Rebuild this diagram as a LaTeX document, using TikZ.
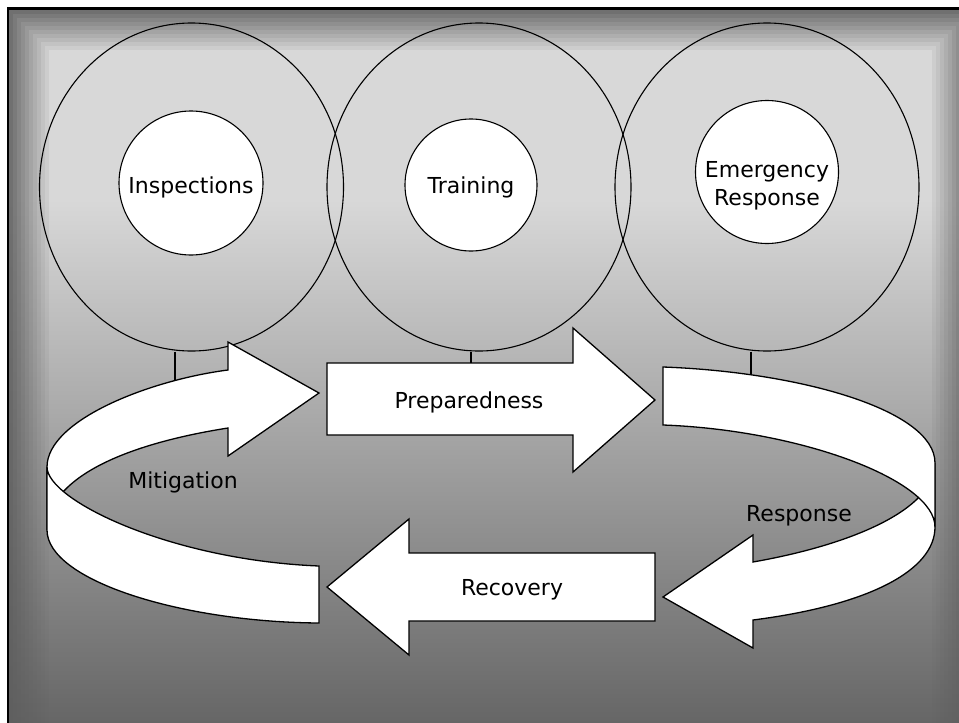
\documentclass[tikz,border=0pt]{standalone}
\usepackage{fontspec}
\setmainfont{DejaVu Sans}
\usetikzlibrary{shapes.geometric}
\definecolor{bgtop}{HTML}{D8D8D8}
\definecolor{bgbot}{HTML}{666666}
\definecolor{bevelc}{HTML}{5E5E5E}
\tikzset{
  bigc/.style={ellipse, draw=black, line width=1.1pt, minimum width=304pt, minimum height=328pt, inner sep=0pt},
  innerc/.style={circle, draw=black, fill=white, line width=1.1pt, inner sep=0pt},
  arr/.style={draw=black, fill=white, line width=1.3pt, line join=miter},
  link/.style={draw=black, line width=1.3pt},
  lbl/.style={font=\fontsize{22}{28}\selectfont, text=black, inner sep=0pt},
}
\begin{document}
\begin{tikzpicture}[x=1pt,y=-1pt]
\useasboundingbox (0,0) rectangle (959,723);
\clip (0,0) rectangle (959,723);
% background
\fill[white] (0,0) rectangle (959,723);
\fill[bgtop] (8,8) rectangle (990,200);
\shade[top color=bgtop, bottom color=bgbot] (8,199.5) rectangle (990,723);
\foreach \i in {0,...,9}{
  \pgfmathsetmacro{\op}{0.85-0.085*\i}
  \draw[bevelc, draw opacity=\op, line width=4pt] (11+4*\i,12+4*\i) rectangle (970-4*\i,900);
}
\draw[black, line width=2.7pt] (8,8.7) rectangle (1000,1000);

% large circles
\node[bigc] (c1) at (191.5,187) {};
\node[bigc] (c2) at (479,187) {};
\node[bigc] (c3) at (767,187) {};
% inner circles
\node[innerc, minimum size=144pt] (i1) at (191,183) {};
\node[innerc, minimum size=132pt] (i2) at (471,185) {};
\node[innerc, minimum size=143pt] (i3) at (767,172) {};

% link ends
\coordinate (m1) at (175,385);
\coordinate (m2) at (471,366);
\coordinate (m3) at (751,376);
\draw[link] (c1.south -| m1) -- (m1);
\draw[link] (c2.south -| m2) -- (m2);
\draw[link] (c3.south -| m3) -- (m3);

% Preparedness arrow
\draw[arr] (327,363) -- (573,363) -- (573,328) -- (655,400) -- (573,472) -- (573,435) -- (327,435) -- cycle;
% Recovery arrow
\draw[arr] (655,553) -- (409,553) -- (409,519) -- (327,587) -- (409,655) -- (409,621) -- (655,621) -- cycle;

% Mitigation ribbon: back part with head, then front part
\draw[arr] (228,370) .. controls (150,380) and (47,420) .. (47,467) -- (47,530)
  .. controls (47,480) and (120,445) .. (228,428) -- (228,456) -- (319,393) -- (228,342) -- cycle;
\draw[arr] (47,467) .. controls (47,500) and (170,560) .. (319,566) -- (319,623)
  .. controls (180,622) and (47,580) .. (47,530) -- cycle;

% Response ribbon: back part with head, then front part
\draw[arr] (753,562) .. controls (850,545) and (935,510) .. (935,463) -- (935,527)
  .. controls (935,570) and (870,605) .. (753,620) -- (753,648) -- (663,597) -- (753,535) -- cycle;
\draw[arr] (663,367) .. controls (800,372) and (935,410) .. (935,463) -- (935,527)
  .. controls (935,480) and (800,430) .. (663,425) -- cycle;

% labels
\node[lbl, anchor=base] (t1) at (191,193) {Inspections};
\node[lbl, anchor=base] (t2) at (471,193) {Training};
\node[lbl, align=center] (t3) at (767,186) {Emergency\\Response};
\node[lbl, anchor=base] (t4) at (469,408) {Preparedness};
\node[lbl, anchor=base] (t5) at (183,488) {Mitigation};
\node[lbl, anchor=base] (t6) at (799,521) {Response};
\node[lbl, anchor=base] (t7) at (512,595) {Recovery};
\end{tikzpicture}
\end{document}
